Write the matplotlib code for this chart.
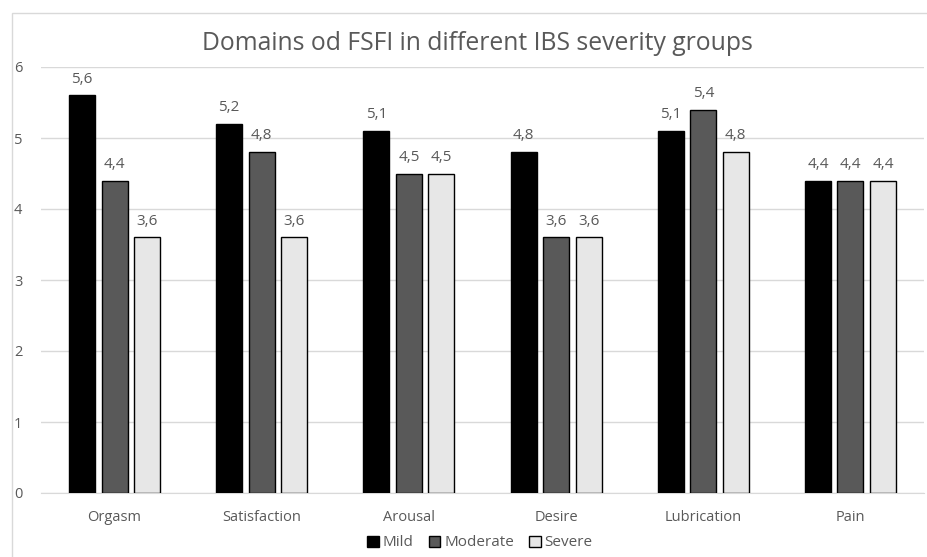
import matplotlib
matplotlib.use("Agg")
import matplotlib.pyplot as plt
import numpy as np
from matplotlib.patches import Rectangle

categories = ["Orgasm", "Satisfaction", "Arousal", "Desire", "Lubrication", "Pain"]
series_names = ["Mild", "Moderate", "Severe"]
mild = [5.6, 5.2, 5.1, 4.8, 5.1, 4.4]
moderate = [4.4, 4.8, 4.5, 3.6, 5.4, 4.4]
severe = [3.6, 3.6, 4.5, 3.6, 4.8, 4.4]
value_labels = {
    "Mild": ["5,6", "5,2", "5,1", "4,8", "5,1", "4,4"],
    "Moderate": ["4,4", "4,8", "4,5", "3,6", "5,4", "4,4"],
    "Severe": ["3,6", "3,6", "4,5", "3,6", "4,8", "4,4"],
}
yticks = [0, 1, 2, 3, 4, 5, 6]
title = "Domains od FSFI in different IBS severity groups"

plt.rcParams['font.family'] = ['Open Sans', 'DejaVu Sans']
txt = "#595959"

fig = plt.figure(figsize=(9.27, 5.57), dpi=100)
fig.patch.set_facecolor("white")
# outer chart border
fig.add_artist(Rectangle((12/927, -0.05), 1.2, (557-13)/557 + 0.05, transform=fig.transFigure,
                         fill=False, edgecolor="#d9d9d9", linewidth=1, zorder=0))

ax = fig.add_axes([41/927, (557-493)/557, (924-41)/927, (493-67)/557])
x = np.arange(len(categories))
w = 0.177
step = 0.221
colors = ["#000000", "#595959", "#e7e7e7"]
data = [mild, moderate, severe]
for i, (name, vals, c) in enumerate(zip(series_names, data, colors)):
    pos = x + (i - 1) * step
    ax.bar(pos, vals, width=w, color=c, edgecolor="#000000", linewidth=1, label=name, zorder=3)
    for p, v, lab in zip(pos, vals, value_labels[name]):
        ax.text(p, v + 0.18, lab, ha="center", va="baseline", fontsize=11, color=txt)

ax.set_xlim(-0.5, len(categories) - 0.5)
ax.set_ylim(0, 6)
ax.set_yticks(yticks)
ax.set_yticklabels([str(t) for t in yticks])
ax.set_xticks(x)
ax.set_xticklabels(categories)
ax.tick_params(axis="both", length=0, colors=txt, labelsize=10.5)
ax.tick_params(axis="y", pad=13.5)
ax.tick_params(axis="x", pad=12)
ax.grid(axis="y", color="#d9d9d9", linewidth=1, zorder=0)
for s in ["left", "right", "top"]:
    ax.spines[s].set_visible(False)
ax.spines["bottom"].set_color("#d9d9d9")
ax.set_facecolor("none")

fig.text(477/927, 1 - 43/557, title, ha="center", va="center", fontsize=17.8, color=txt)

leg = fig.legend(loc="center", bbox_to_anchor=(480/927, 1 - 543/557), ncol=3, frameon=False,
                 fontsize=11, handlelength=0.75, handleheight=0.75, handletextpad=0.25,
                 columnspacing=1.0, labelcolor=txt)

fig.savefig("out.png", dpi=100, facecolor="white")
